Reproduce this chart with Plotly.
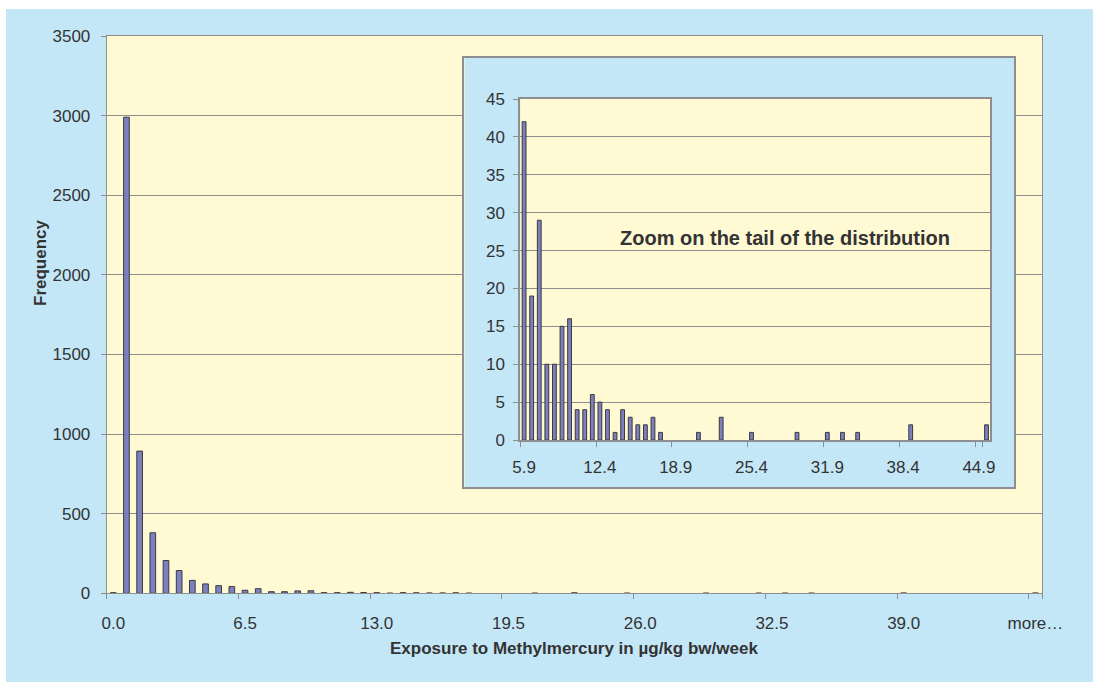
import plotly.graph_objects as go

# ---------------- data ----------------
bins = ["0.0", "0.7", "1.3", "2.0", "2.6", "3.3", "3.9", "4.6", "5.2", "5.9",
        "6.5", "7.2", "7.8", "8.5", "9.1", "9.8", "10.4", "11.1", "11.7", "12.4",
        "13.0", "13.7", "14.3", "15.0", "15.6", "16.3", "16.9", "17.6", "18.2", "18.9",
        "19.5", "20.2", "20.8", "21.5", "22.1", "22.8", "23.4", "24.1", "24.7", "25.4",
        "26.0", "26.7", "27.3", "28.0", "28.6", "29.3", "29.9", "30.6", "31.2", "31.9",
        "32.5", "33.2", "33.8", "34.5", "35.1", "35.8", "36.4", "37.1", "37.7", "38.4",
        "39.0", "39.7", "40.3", "41.0", "41.6", "42.3", "42.9", "43.6", "44.2", "44.9",
        "more\u2026"]

head_freq = [4, 2990, 893, 380, 206, 143, 81, 59, 48]
tail_freq = [42, 19, 29, 10, 10, 15, 16, 4, 4, 6, 5, 4, 1, 4, 3, 2, 2, 3, 1,
             0, 0, 0, 0, 1, 0, 0, 3, 0, 0, 0, 1, 0, 0, 0, 0, 0, 1, 0, 0, 0,
             1, 0, 1, 0, 1, 0, 0, 0, 0, 0, 0, 2, 0, 0, 0, 0, 0, 0, 0, 0, 0, 2]
freq = head_freq + tail_freq

tail_bins = bins[len(head_freq):]

main_tick_labels = ["0.0", "6.5", "13.0", "19.5", "26.0", "32.5", "39.0", "more\u2026"]
inset_tick_labels = ["5.9", "12.4", "18.9", "25.4", "31.9", "38.4", "44.9"]
main_y_ticks = [0, 500, 1000, 1500, 2000, 2500, 3000, 3500]
inset_y_ticks = [0, 5, 10, 15, 20, 25, 30, 35, 40, 45]

x_title = "Exposure to Methylmercury in \u00b5g/kg bw/week"
y_title = "Frequency"
inset_note = "Zoom on the tail of the distribution"

# ---------------- style ----------------
W, H = 1093, 682
BLUE = "#C4E7F8"
YELLOW = "#FFF9D4"
BAR = "#7C80C0"
BAR_EDGE = "#3A3A3A"
GRID = "#8E8E8E"
AXIS = "#8E8E8E"
TXT = "#333333"
FONT = "Liberation Sans, Arial, sans-serif"


def fx(px):
    return px / W


def fy(py):
    return 1 - py / H


def edge_widths(values):
    # zero-height bins are not outlined
    return [1 if v > 0 else 0 for v in values]


fig = go.Figure()

fig.add_trace(go.Bar(x=bins, y=freq, xaxis="x", yaxis="y", width=0.43,
                     marker=dict(color=BAR, line=dict(color=BAR_EDGE, width=edge_widths(freq))),
                     showlegend=False))
fig.add_trace(go.Scatter(x=[], y=[], xaxis="x2", yaxis="y2", showlegend=False,
                         hoverinfo="skip"))
fig.add_trace(go.Bar(x=tail_bins, y=tail_freq, xaxis="x3", yaxis="y3", width=0.5,
                     marker=dict(color=BAR, line=dict(color=BAR_EDGE, width=edge_widths(tail_freq))),
                     showlegend=False))

tickfont = dict(family=FONT, size=17, color=TXT)
titlefont = dict(family=FONT, size=17, color=TXT)

fig.update_layout(
    width=W, height=H,
    margin=dict(l=0, r=0, t=0, b=0, pad=0, autoexpand=False),
    paper_bgcolor=BLUE,
    plot_bgcolor=YELLOW,
    font=dict(family=FONT, color=TXT),
    xaxis=dict(domain=[fx(106.7), fx(1042)], anchor="y", type="category",
               categoryorder="array", categoryarray=bins, range=[-0.5, len(bins) - 0.5],
               tickmode="array", tickvals=bins[::10], ticktext=main_tick_labels,
               tickson="boundaries", ticks="outside", ticklen=5, tickcolor=AXIS,
               tickangle=0, automargin=False,
               showgrid=False, showline=True, mirror=True, linecolor=AXIS, linewidth=1,
               tickfont=tickfont, ticklabelstandoff=14, fixedrange=True),
    yaxis=dict(domain=[fy(593.3), fy(36)], anchor="x", range=[0, 3500],
               tickmode="array", tickvals=main_y_ticks, ticks="outside", ticklen=5,
               tickcolor=AXIS, showgrid=True, gridcolor=GRID, gridwidth=1, automargin=False,
               zeroline=False, showline=True, mirror=True, linecolor=AXIS, linewidth=1,
               tickfont=tickfont, ticklabelstandoff=7, fixedrange=True),
    xaxis2=dict(domain=[fx(464.3), fx(1014)], anchor="y2", range=[0, 1], automargin=False,
                showgrid=False, zeroline=False, showticklabels=False, ticks="",
                showline=True, mirror=True, linecolor=AXIS, linewidth=2, fixedrange=True),
    yaxis2=dict(domain=[fy(487), fy(58)], anchor="x2", range=[0, 1], automargin=False,
                showgrid=False, zeroline=False, showticklabels=False, ticks="",
                showline=True, mirror=True, linecolor=AXIS, linewidth=2, fixedrange=True),
    xaxis3=dict(domain=[fx(520.3), fx(990.3)], anchor="y3", type="category",
                categoryorder="array", categoryarray=tail_bins,
                range=[-0.5, len(tail_bins) - 0.5],
                tickmode="array", tickvals=tail_bins[::10], ticktext=inset_tick_labels,
                tickson="boundaries", ticks="outside", ticklen=5, tickcolor=AXIS,
                tickangle=0, automargin=False,
                showgrid=False, showline=True, mirror=True, linecolor=AXIS, linewidth=2,
                tickfont=tickfont, ticklabelstandoff=11, fixedrange=True),
    yaxis3=dict(domain=[fy(440), fy(99)], anchor="x3", range=[0, 45],
                tickmode="array", tickvals=inset_y_ticks, ticks="outside", ticklen=5,
                tickcolor=AXIS, showgrid=True, gridcolor=GRID, gridwidth=1, automargin=False,
                zeroline=False, showline=True, mirror=True, linecolor=AXIS, linewidth=2,
                tickfont=tickfont, ticklabelstandoff=5, fixedrange=True),
    shapes=[
        # white page strips around the light-blue chart area
        dict(type="rect", xref="paper", yref="paper", x0=-0.01, x1=fx(6), y0=-0.01, y1=1.01,
             fillcolor="white", line=dict(width=0), layer="below"),
        dict(type="rect", xref="paper", yref="paper", x0=-0.01, x1=1.01, y0=fy(9), y1=1.01,
             fillcolor="white", line=dict(width=0), layer="below"),
        # inset panel
        dict(type="rect", xref="x2", yref="y2", x0=0, x1=1, y0=0, y1=1,
             fillcolor=BLUE, line=dict(width=0), layer="below"),
    ],
    annotations=[
        dict(text="<b>" + inset_note + "</b>", xref="paper", yref="paper",
             x=fx(617.7), y=fy(238), xanchor="left", yanchor="middle", showarrow=False,
             font=dict(family=FONT, size=20, color=TXT)),
        dict(text="<b>" + x_title + "</b>", xref="paper", yref="paper",
             x=fx(574.3), y=fy(648), xanchor="center", yanchor="middle", showarrow=False,
             font=titlefont),
        dict(text="<b>" + y_title + "</b>", xref="paper", yref="paper",
             x=fx(40), y=fy(263), xanchor="center", yanchor="middle", showarrow=False,
             textangle=-90, font=titlefont),
    ],
)

fig.write_html("out.html")
